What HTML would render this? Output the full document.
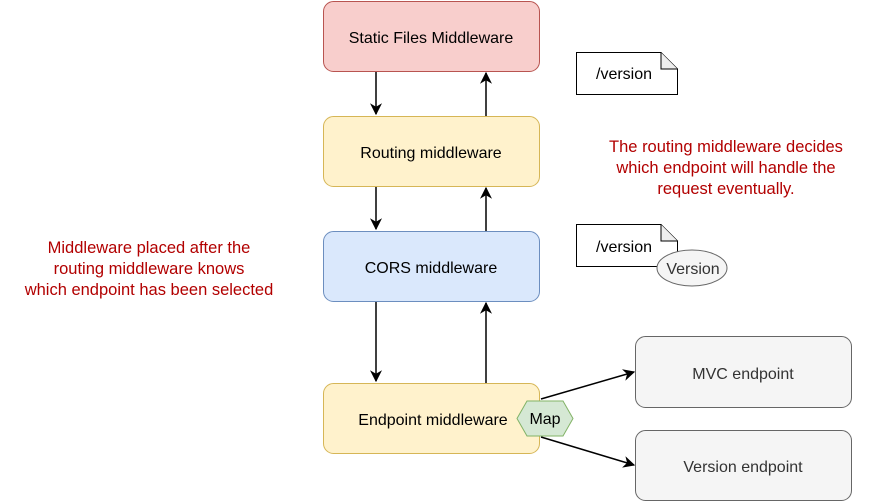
<!DOCTYPE html>
<html><head><style>body{margin:0;background:#fff}svg{display:block}text{font-family:"Liberation Sans",sans-serif}</style></head><body>
<svg width="880" height="503" viewBox="0 0 880 503" xmlns="http://www.w3.org/2000/svg">
<defs><marker id="a" viewBox="0 0 10 10" refX="9" refY="5" markerWidth="12" markerHeight="12" markerUnits="userSpaceOnUse" orient="auto"><path d="M0,0 L10,5 L0,10 L3,5 z" fill="#000"/></marker></defs>
<rect x="323.5" y="1.5" width="216" height="70" rx="10" fill="#f8cecc" stroke="#b85450"/>
<text x="431" y="43" font-size="16" text-anchor="middle">Static Files Middleware</text>
<rect x="323.5" y="116.5" width="216" height="70" rx="10" fill="#fff2cc" stroke="#d6b656"/>
<text x="431" y="158" font-size="16" text-anchor="middle">Routing middleware</text>
<rect x="323.5" y="231.5" width="216" height="70" rx="10" fill="#dae8fc" stroke="#6c8ebf"/>
<text x="431" y="273" font-size="16" text-anchor="middle">CORS middleware</text>
<rect x="323.5" y="383.5" width="216" height="70" rx="10" fill="#fff2cc" stroke="#d6b656"/>
<text x="433" y="425" font-size="16" text-anchor="middle">Endpoint middleware</text>
<rect x="635.5" y="336.5" width="216" height="71" rx="10" fill="#f5f5f5" stroke="#666"/>
<text x="743" y="379" font-size="16" text-anchor="middle" fill="#333">MVC endpoint</text>
<rect x="635.5" y="430.5" width="216" height="70" rx="10" fill="#f5f5f5" stroke="#666"/>
<text x="743" y="472" font-size="16" text-anchor="middle" fill="#333">Version endpoint</text>
<g stroke="#000" stroke-width="1.5" fill="none" marker-end="url(#a)">
<line x1="376" y1="72" x2="376" y2="114"/><line x1="486" y1="116" x2="486" y2="73"/>
<line x1="376" y1="187" x2="376" y2="229"/><line x1="486" y1="231" x2="486" y2="188"/>
<line x1="376" y1="302" x2="376" y2="381"/><line x1="486" y1="383" x2="486" y2="303"/>
<line x1="541" y1="399" x2="634" y2="372"/><line x1="541" y1="437" x2="634" y2="465"/>
</g>
<polygon points="517,418.5 527,401 563,401 573,418.5 563,436 527,436" fill="#d5e8d4" stroke="#82b366"/>
<text x="545" y="424" font-size="16" text-anchor="middle">Map</text>
<path d="M576.5,52.5 H661 L677.5,69 V94.5 H576.5 Z" fill="#fff" stroke="#000"/>
<path d="M661,52.5 V69 H677.5" fill="#eee" stroke="#000"/>
<text x="596" y="79" font-size="16">/version</text>
<path d="M576.5,224.5 H661 L677.5,241 V266.5 H576.5 Z" fill="#fff" stroke="#000"/>
<path d="M661,224.5 V241 H677.5" fill="#eee" stroke="#000"/>
<text x="596" y="252" font-size="16">/version</text>
<ellipse cx="692" cy="268" rx="35" ry="18" fill="#f5f5f5" stroke="#666"/>
<text x="693" y="274" font-size="16" text-anchor="middle" fill="#333">Version</text>
<g font-size="16.5" fill="#b20000" text-anchor="middle">
<text x="726" y="152">The routing middleware decides</text>
<text x="726" y="173">which endpoint will handle the</text>
<text x="726" y="194">request eventually.</text>
<text x="149" y="253">Middleware placed after the</text>
<text x="149" y="274">routing middleware knows</text>
<text x="149" y="295">which endpoint has been selected</text>
</g>
</svg>
</body></html>
